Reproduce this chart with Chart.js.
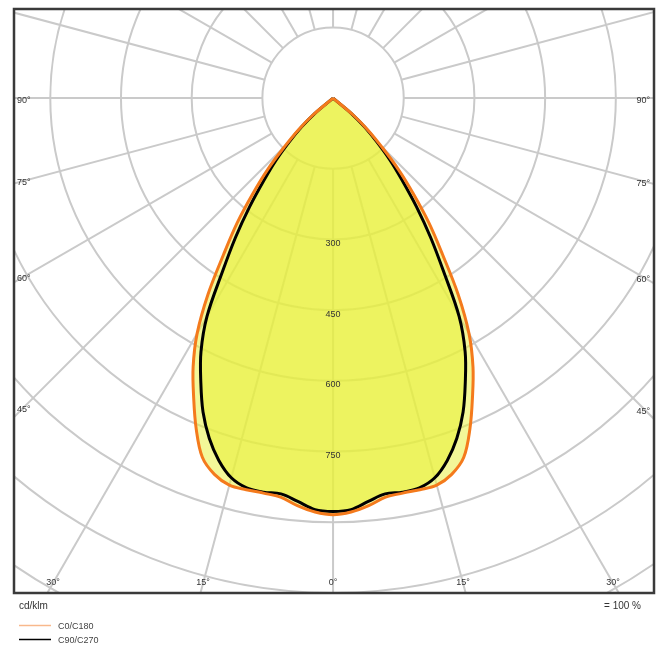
<!DOCTYPE html>
<html>
<head>
<meta charset="utf-8">
<title>Polar light distribution</title>
<script src="https://cdn.jsdelivr.net/npm/chart.js@4.4.1/dist/chart.umd.min.js"></script>
<style>
    html, body { margin: 0; padding: 0; background: #fff; }
    #wrap { position: relative; width: 666px; height: 659px; }
</style>
</head>
<body>
<div id="wrap"><canvas id="ldc"></canvas></div>
<script>
// gamma angle from nadir (deg) and intensity in cd/klm
const gammaAngles = [0, 2.5, 5, 7.5, 10, 12.5, 15, 17.5, 20, 22.5, 25, 27.5, 30, 32.5, 35, 37.5, 40, 42.5, 45, 47.5, 50, 52.5];
const c0c180 = [884, 879, 868, 854, 851, 851, 850, 837, 811, 759, 700, 643, 577, 494, 405, 335, 265, 205, 145, 100, 55, 0];
const c90c270 = [877, 874, 859, 847, 849, 847, 834, 806, 768, 721, 664, 607, 535, 437, 361, 291, 229, 180, 132, 91, 51, 0];

// grid
const ringValues = [150, 300, 450, 600, 750, 900, 1050, 1200, 1350];
const ringLabels = [300, 450, 600, 750];
const spokeAngles = [0, 15, 30, 45, 60, 75, 90, 105, 120, 135, 150, 165, 180, 195, 210, 225, 240, 255, 270, 285, 300, 315, 330, 345];
const sideAngleLabels = [90, 75, 60, 45];
const bottomAngleLabels = [-30, -15, 0, 15, 30];

const unitText = 'cd/klm';
const scaleText = '= 100 %';

const FONT = '"Liberation Sans", Arial, sans-serif';
const rad = (d) => d * Math.PI / 180;

// left half (C180 / C270) from the top down to nadir, then right half (C0 / C90) back up
function toPoints(values) {
    const pts = [];
    for (let i = gammaAngles.length - 1; i >= 0; i--) {
        const g = rad(gammaAngles[i]);
        pts.push({ x: -values[i] * Math.sin(g), y: -values[i] * Math.cos(g) });
    }
    for (let i = 1; i < gammaAngles.length; i++) {
        const g = rad(gammaAngles[i]);
        pts.push({ x: values[i] * Math.sin(g), y: -values[i] * Math.cos(g) });
    }
    return pts;
}

const polarGrid = {
    id: 'polarGrid',
    beforeDraw(chart) {
        const { ctx, chartArea: a, scales: { x, y } } = chart;
        const cx = x.getPixelForValue(0);
        const cy = y.getPixelForValue(0);
        const k = x.getPixelForValue(1000) - cx;
        ctx.save();
        ctx.beginPath();
        ctx.rect(a.left, a.top, a.right - a.left, a.bottom - a.top);
        ctx.clip();
        ctx.strokeStyle = 'rgb(202,202,202)';
        ctx.lineWidth = 2;
        ringValues.forEach(v => {
            ctx.beginPath();
            ctx.arc(cx, cy, v * k / 1000, 0, Math.PI * 2);
            ctx.stroke();
        });
        const r0 = ringValues[0] * k / 1000;
        const r1 = 2000 * k / 1000;
        spokeAngles.forEach(d => {
            const s = Math.sin(rad(d)), c = Math.cos(rad(d));
            ctx.beginPath();
            ctx.moveTo(cx + r0 * s, cy + r0 * c);
            ctx.lineTo(cx + r1 * s, cy + r1 * c);
            ctx.stroke();
        });
        ctx.restore();
    },
    afterDraw(chart) {
        const { ctx, chartArea: a, scales: { x, y } } = chart;
        const cx = x.getPixelForValue(0);
        const cy = y.getPixelForValue(0);
        ctx.save();
        ctx.fillStyle = '#333';
        ctx.textBaseline = 'middle';

        // intensity labels along the nadir line
        ctx.font = '9px ' + FONT;
        ctx.textAlign = 'center';
        ringLabels.forEach(v => {
            ctx.fillText(String(v), cx, y.getPixelForValue(-v) + 4);
        });

        // angle labels on the left and right edges
        const inset = 10;
        sideAngleLabels.forEach(d => {
            const t = Math.tan(rad(d));
            const dl = cx - (a.left + inset);
            const dr = (a.right - inset) - cx;
            const yl = d === 90 ? cy : cy + dl / t;
            const yr = d === 90 ? cy : cy + dr / t;
            ctx.textAlign = 'left';
            ctx.fillText(d + '°', a.left + 3, yl + 2);
            ctx.textAlign = 'right';
            ctx.fillText(d + '°', a.right - 4, yr + 2);
        });

        // angle labels along the bottom edge
        ctx.textAlign = 'center';
        const yb = a.bottom - inset;
        bottomAngleLabels.forEach(d => {
            ctx.fillText(Math.abs(d) + '°', cx + (yb - cy) * Math.tan(rad(d)), yb);
        });

        // frame
        ctx.strokeStyle = '#3a3a3a';
        ctx.lineWidth = 2.5;
        ctx.strokeRect(a.left, a.top, a.right - a.left, a.bottom - a.top);

        // unit and scale text under the frame
        ctx.font = '10px ' + FONT;
        ctx.textAlign = 'left';
        ctx.fillText(unitText, a.left + 5, a.bottom + 13);
        ctx.textAlign = 'right';
        ctx.fillText(scaleText, a.right - 13, a.bottom + 13);

        // legend
        ctx.font = '9px ' + FONT;
        ctx.textAlign = 'left';
        chart.data.datasets.forEach((ds, i) => {
            const ly = a.bottom + 32.5 + i * 14;
            ctx.strokeStyle = ds.legendColor;
            ctx.lineWidth = 1.5;
            ctx.beginPath();
            ctx.moveTo(a.left + 5, ly);
            ctx.lineTo(a.left + 37, ly);
            ctx.stroke();
            ctx.fillStyle = '#444';
            ctx.fillText(ds.label, a.left + 44, ly + 1);
        });
        ctx.restore();
    }
};

new Chart(document.getElementById('ldc'), {
    type: 'scatter',
    data: {
        datasets: [{
            label: 'C0/C180',
            data: toPoints(c0c180),
            showLine: true,
            borderColor: 'rgb(244,122,28)',
            legendColor: 'rgb(248,184,140)',
            borderWidth: 3,
            backgroundColor: 'rgba(232,240,60,0.53)',
            fill: 'shape',
            tension: 0.35,
            pointRadius: 0
        }, {
            label: 'C90/C270',
            data: toPoints(c90c270),
            showLine: true,
            borderColor: '#000',
            legendColor: '#000',
            borderWidth: 3,
            backgroundColor: 'rgba(232,240,60,0.61)',
            fill: 'shape',
            tension: 0.35,
            pointRadius: 0
        }]
    },
    options: {
        responsive: true,
        maintainAspectRatio: false,
        animation: false,
        layout: { padding: { left: 14, top: 9, right: 12, bottom: 66 } },
        scales: {
            x: { type: 'linear', min: -677, max: 681, display: false },
            y: { type: 'linear', min: -1050, max: 189, display: false }
        },
        plugins: {
            legend: { display: false },
            tooltip: { enabled: false },
            filler: { drawTime: 'beforeDatasetsDraw' }
        }
    },
    plugins: [polarGrid]
});
</script>
</body>
</html>
